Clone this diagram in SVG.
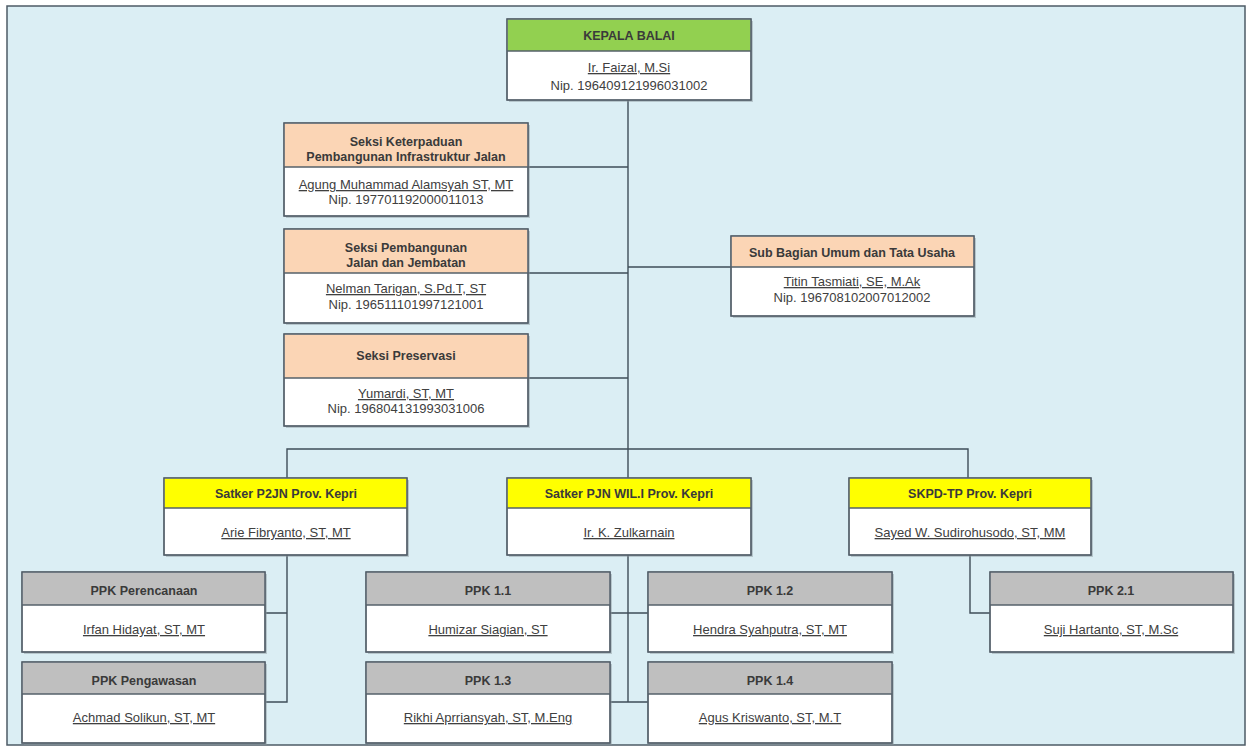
<svg xmlns="http://www.w3.org/2000/svg" width="1252" height="749" viewBox="0 0 1252 749">
<defs>
<style>
.bg{fill:#dbeef4;stroke:#4d5b66;stroke-width:1.5}
.box{fill:#ffffff;stroke:#55606a;stroke-width:1.3}
.sh{fill:#8a959c;opacity:0.45}
.hg{fill:#92d050}
.hp{fill:#fbd5b5}
.hy{fill:#ffff00}
.hs{fill:#bfbfbf}
.sep{stroke:#55606a;stroke-width:1.3}
.ht{font-family:"Liberation Sans",Arial,sans-serif;font-size:12.5px;font-weight:bold;fill:#3a3a3a;text-anchor:middle}
.bt{font-family:"Liberation Sans",Arial,sans-serif;font-size:13px;fill:#404040;text-anchor:middle}
.u{text-decoration:underline}
.con{fill:none;stroke:#3f4d58;stroke-width:1.4}
</style>
</defs>
<rect class="bg" x="7" y="6" width="1238" height="739"/>

<g id="connectors">
<path class="con" d="M628,100 V449"/>
<path class="con" d="M528,167 H628 M528,273 H628 M528,378 H628 M628,267 H731"/>
<path class="con" d="M287,478 V449 H968 V478 M628,449 V478"/>
<path class="con" d="M287,555 V702 H266 M266,613 H287"/>
<path class="con" d="M628,555 V702 M610,613 H648 M610,702 H648"/>
<path class="con" d="M970,555 V613 H990"/>
</g>

<g id="kepala-balai">
<rect class="sh" x="509" y="21" width="244" height="81"/>
<rect class="box" x="507" y="19" width="244" height="81"/>
<rect class="hg" x="507.6" y="19.6" width="242.8" height="31.4"/>
<line class="sep" x1="507" y1="51" x2="751" y2="51"/>
<rect fill="none" stroke="#55606a" stroke-width="1.3" x="507" y="19" width="244" height="81"/>
<text class="ht" x="629" y="40">KEPALA BALAI</text>
<text class="bt u" x="629" y="72">Ir. Faizal, M.Si</text>
<text class="bt" x="629" y="90">Nip. 196409121996031002</text>
</g>

<g id="seksi-keterpaduan">
<rect class="sh" x="286" y="125" width="244" height="93"/>
<rect class="box" x="284" y="123" width="244" height="93"/>
<rect class="hp" x="284.6" y="123.6" width="242.8" height="43.4"/>
<line class="sep" x1="284" y1="167" x2="528" y2="167"/>
<rect fill="none" stroke="#55606a" stroke-width="1.3" x="284" y="123" width="244" height="93"/>
<text class="ht" x="406" y="146">Seksi Keterpaduan</text>
<text class="ht" x="406" y="161">Pembangunan Infrastruktur Jalan</text>
<text class="bt u" x="406" y="189">Agung Muhammad Alamsyah ST, MT</text>
<text class="bt" x="406" y="204">Nip. 197701192000011013</text>
</g>

<g id="seksi-pembangunan">
<rect class="sh" x="286" y="231" width="244" height="94"/>
<rect class="box" x="284" y="229" width="244" height="94"/>
<rect class="hp" x="284.6" y="229.6" width="242.8" height="43.4"/>
<line class="sep" x1="284" y1="273" x2="528" y2="273"/>
<rect fill="none" stroke="#55606a" stroke-width="1.3" x="284" y="229" width="244" height="94"/>
<text class="ht" x="406" y="252">Seksi Pembangunan</text>
<text class="ht" x="406" y="267">Jalan dan Jembatan</text>
<text class="bt u" x="406" y="293">Nelman Tarigan, S.Pd.T, ST</text>
<text class="bt" x="406" y="309">Nip. 196511101997121001</text>
</g>

<g id="seksi-preservasi">
<rect class="sh" x="286" y="336" width="244" height="92"/>
<rect class="box" x="284" y="334" width="244" height="92"/>
<rect class="hp" x="284.6" y="334.6" width="242.8" height="43.4"/>
<line class="sep" x1="284" y1="378" x2="528" y2="378"/>
<rect fill="none" stroke="#55606a" stroke-width="1.3" x="284" y="334" width="244" height="92"/>
<text class="ht" x="406" y="360">Seksi Preservasi</text>
<text class="bt u" x="406" y="398">Yumardi, ST, MT</text>
<text class="bt" x="406" y="413">Nip. 196804131993031006</text>
</g>

<g id="sub-bagian-umum">
<rect class="sh" x="733" y="238" width="243" height="80"/>
<rect class="box" x="731" y="236" width="243" height="80"/>
<rect class="hp" x="731.6" y="236.6" width="241.8" height="30.4"/>
<line class="sep" x1="731" y1="267" x2="974" y2="267"/>
<rect fill="none" stroke="#55606a" stroke-width="1.3" x="731" y="236" width="243" height="80"/>
<text class="ht" x="852" y="257">Sub Bagian Umum dan Tata Usaha</text>
<text class="bt u" x="852" y="286">Titin Tasmiati, SE, M.Ak</text>
<text class="bt" x="852" y="302">Nip. 196708102007012002</text>
</g>

<g id="satker-p2jn">
<rect class="sh" x="166" y="480" width="243" height="77"/>
<rect class="box" x="164" y="478" width="243" height="77"/>
<rect class="hy" x="164.6" y="478.6" width="241.8" height="29.4"/>
<line class="sep" x1="164" y1="508" x2="407" y2="508"/>
<rect fill="none" stroke="#55606a" stroke-width="1.3" x="164" y="478" width="243" height="77"/>
<text class="ht" x="286" y="498">Satker P2JN Prov. Kepri</text>
<text class="bt u" x="286" y="537">Arie Fibryanto, ST, MT</text>
</g>

<g id="satker-pjn-wil1">
<rect class="sh" x="509" y="480" width="244" height="77"/>
<rect class="box" x="507" y="478" width="244" height="77"/>
<rect class="hy" x="507.6" y="478.6" width="242.8" height="29.4"/>
<line class="sep" x1="507" y1="508" x2="751" y2="508"/>
<rect fill="none" stroke="#55606a" stroke-width="1.3" x="507" y="478" width="244" height="77"/>
<text class="ht" x="629" y="498">Satker PJN WIL.I Prov. Kepri</text>
<text class="bt u" x="629" y="537">Ir. K. Zulkarnain</text>
</g>

<g id="skpd-tp">
<rect class="sh" x="851" y="480" width="242" height="77"/>
<rect class="box" x="849" y="478" width="242" height="77"/>
<rect class="hy" x="849.6" y="478.6" width="240.8" height="29.4"/>
<line class="sep" x1="849" y1="508" x2="1091" y2="508"/>
<rect fill="none" stroke="#55606a" stroke-width="1.3" x="849" y="478" width="242" height="77"/>
<text class="ht" x="970" y="498">SKPD-TP Prov. Kepri</text>
<text class="bt u" x="970" y="537">Sayed W. Sudirohusodo, ST, MM</text>
</g>

<g id="ppk-perencanaan">
<rect class="sh" x="24" y="574" width="243" height="80"/>
<rect class="box" x="22" y="572" width="243" height="80"/>
<rect class="hs" x="22.6" y="572.6" width="241.8" height="32.4"/>
<line class="sep" x1="22" y1="605" x2="265" y2="605"/>
<rect fill="none" stroke="#55606a" stroke-width="1.3" x="22" y="572" width="243" height="80"/>
<text class="ht" x="144" y="595">PPK Perencanaan</text>
<text class="bt u" x="144" y="634">Irfan Hidayat, ST, MT</text>
</g>

<g id="ppk-pengawasan">
<rect class="sh" x="24" y="664" width="243" height="81"/>
<rect class="box" x="22" y="662" width="243" height="81"/>
<rect class="hs" x="22.6" y="662.6" width="241.8" height="31.4"/>
<line class="sep" x1="22" y1="694" x2="265" y2="694"/>
<rect fill="none" stroke="#55606a" stroke-width="1.3" x="22" y="662" width="243" height="81"/>
<text class="ht" x="144" y="685">PPK Pengawasan</text>
<text class="bt u" x="144" y="722">Achmad Solikun, ST, MT</text>
</g>

<g id="ppk-1-1">
<rect class="sh" x="368" y="574" width="244" height="80"/>
<rect class="box" x="366" y="572" width="244" height="80"/>
<rect class="hs" x="366.6" y="572.6" width="242.8" height="32.4"/>
<line class="sep" x1="366" y1="605" x2="610" y2="605"/>
<rect fill="none" stroke="#55606a" stroke-width="1.3" x="366" y="572" width="244" height="80"/>
<text class="ht" x="488" y="595">PPK 1.1</text>
<text class="bt u" x="488" y="634">Humizar Siagian, ST</text>
</g>

<g id="ppk-1-3">
<rect class="sh" x="368" y="664" width="244" height="81"/>
<rect class="box" x="366" y="662" width="244" height="81"/>
<rect class="hs" x="366.6" y="662.6" width="242.8" height="31.4"/>
<line class="sep" x1="366" y1="694" x2="610" y2="694"/>
<rect fill="none" stroke="#55606a" stroke-width="1.3" x="366" y="662" width="244" height="81"/>
<text class="ht" x="488" y="685">PPK 1.3</text>
<text class="bt u" x="488" y="722">Rikhi Aprriansyah, ST, M.Eng</text>
</g>

<g id="ppk-1-2">
<rect class="sh" x="650" y="574" width="244" height="80"/>
<rect class="box" x="648" y="572" width="244" height="80"/>
<rect class="hs" x="648.6" y="572.6" width="242.8" height="32.4"/>
<line class="sep" x1="648" y1="605" x2="892" y2="605"/>
<rect fill="none" stroke="#55606a" stroke-width="1.3" x="648" y="572" width="244" height="80"/>
<text class="ht" x="770" y="595">PPK 1.2</text>
<text class="bt u" x="770" y="634">Hendra Syahputra, ST, MT</text>
</g>

<g id="ppk-1-4">
<rect class="sh" x="650" y="664" width="244" height="81"/>
<rect class="box" x="648" y="662" width="244" height="81"/>
<rect class="hs" x="648.6" y="662.6" width="242.8" height="31.4"/>
<line class="sep" x1="648" y1="694" x2="892" y2="694"/>
<rect fill="none" stroke="#55606a" stroke-width="1.3" x="648" y="662" width="244" height="81"/>
<text class="ht" x="770" y="685">PPK 1.4</text>
<text class="bt u" x="770" y="722">Agus Kriswanto, ST, M.T</text>
</g>

<g id="ppk-2-1">
<rect class="sh" x="992" y="574" width="243" height="80"/>
<rect class="box" x="990" y="572" width="243" height="80"/>
<rect class="hs" x="990.6" y="572.6" width="241.8" height="32.4"/>
<line class="sep" x1="990" y1="605" x2="1233" y2="605"/>
<rect fill="none" stroke="#55606a" stroke-width="1.3" x="990" y="572" width="243" height="80"/>
<text class="ht" x="1111" y="595">PPK 2.1</text>
<text class="bt u" x="1111" y="634">Suji Hartanto, ST, M.Sc</text>
</g>
</svg>
